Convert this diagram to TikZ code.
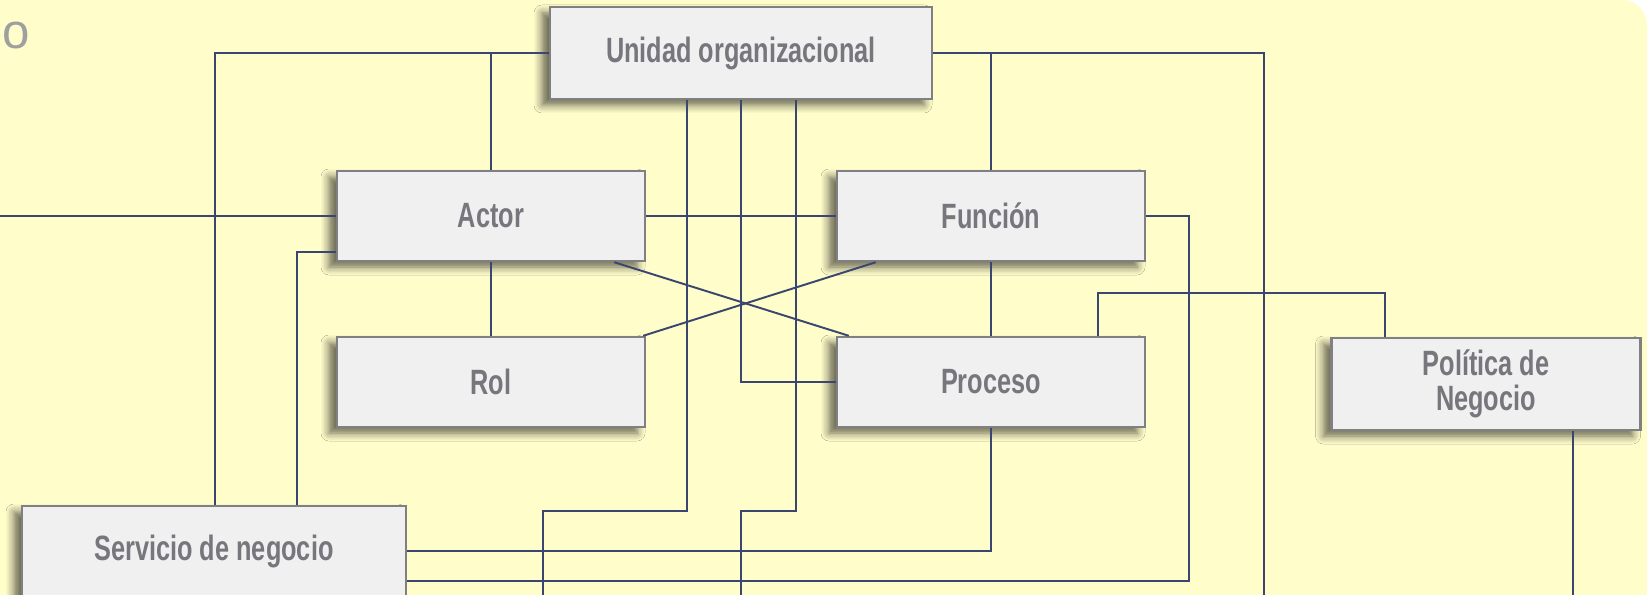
\documentclass[tikz,border=0pt]{standalone}
\usepackage{fontspec}
\newfontfamily\boxfont{Liberation Sans}[FakeStretch=0.72]
\newfontfamily\ttlfont{Liberation Sans}
\usetikzlibrary{calc,shadows.blur}
\definecolor{bgyellow}{RGB}{255,253,202}
\definecolor{boxfill}{RGB}{240,240,240}
\definecolor{boxline}{RGB}{128,128,130}
\definecolor{wirecol}{RGB}{58,70,112}
\definecolor{labelgray}{RGB}{118,118,124}
\tikzset{
    block/.style = {
        draw = boxline,
        line width = 1.4pt,
        fill = boxfill,
        minimum width = 6.16cm,
        minimum height = 1.8cm,
        text = labelgray,
        align = center,
        font = \boxfont\bfseries\fontsize{20}{20}\selectfont,
        blur shadow = {shadow xshift=-0.16cm, shadow yshift=-0.12cm, shadow blur steps=6, shadow opacity=60, shadow blur radius=0.16cm},
        },
    wire/.style = {
        draw = wirecol,
        line width = 1.1pt,
        },
}
\begin{document}
\begin{tikzpicture}
    \fill[bgyellow] (0,0) -- (32.44,0) arc[start angle=90, end angle=0, radius=0.5] -- (32.94,-11.9) -- (0,-11.9) -- cycle;
    \useasboundingbox (0,0) rectangle (32.94,-11.9);

    \node[text=gray!75, font=\ttlfont\fontsize{28}{28}\selectfont] (ttl) at (0.32,-0.72) {o};

    % boxes
    \node [block, minimum width=7.64cm, minimum height=1.84cm] (unidad) at (14.82,-1.06) {Unidad organizacional};
    \node [block] (actor) at (9.82,-4.32) {Actor};
    \node [block] (funcion) at (19.82,-4.32) {Función};
    \node [block] (rol) at (9.82,-7.64) {Rol};
    \node [block] (proceso) at (19.82,-7.64) {Proceso};
    \node [block, minimum width=6.18cm, minimum height=1.84cm] (politica) at (29.72,-7.68) {Política de\\Negocio};
    \node [block, minimum width=7.68cm] (servicio) at (4.28,-11.02) {Servicio de negocio};

    \coordinate (ul) at (4.30,-1.06);
    \coordinate (edgeL) at (0,-4.32);
    \coordinate (ur) at (25.28,-1.06);
    \coordinate (urb) at (25.28,-11.9);
    \coordinate (k1) at (10.86,-10.22);
    \coordinate (b1) at (10.86,-11.9);
    \coordinate (k2) at (14.82,-10.22);
    \coordinate (b2) at (14.82,-11.9);
    \coordinate (fs) at (23.78,-11.62);
    \coordinate (pp) at (21.96,-5.86);
    \coordinate (pb) at (31.46,-11.9);

    % left side
    \draw[wire] (unidad.west) -- (ul) -- (ul |- servicio.north);
    \draw[wire] (actor.north) -- (actor.north |- unidad.west);
    \draw[wire] (edgeL) -- (actor.west);
    \draw[wire] ([xshift=5.52cm] servicio.north west) |- ([yshift=-0.72cm] actor.west);

    % middle
    \draw[wire] (actor.east) -- (funcion.west);
    \draw[wire] (actor.south) -- (rol.north);
    \draw[wire] (funcion.south) -- (proceso.north);
    \draw[wire] ([xshift=-0.64cm] actor.south east) -- ([xshift=0.26cm] proceso.north west);
    \draw[wire] ([xshift=-0.06cm] rol.north east) -- ([xshift=0.8cm] funcion.south west);

    % from unidad downwards
    \draw[wire] ([xshift=-1.08cm] unidad.south) |- (k1) -- (b1);
    \draw[wire] ([xshift=1.1cm] unidad.south) |- (k2) -- (b2);
    \draw[wire] (unidad.south) |- (proceso.west);

    % right side
    \draw[wire] (unidad.east) -- (ur) -- (urb);
    \draw[wire] (funcion.north) -- (funcion.north |- unidad.east);
    \draw[wire] ([xshift=2.14cm] proceso.north) -- (pp) -| ([xshift=-2.02cm] politica.north);
    \draw[wire] ([xshift=1.74cm] politica.south) -- (pb);

    % servicio links
    \draw[wire] (servicio.east) -| (proceso.south);
    \draw[wire] ([yshift=-0.6cm] servicio.east) -- (fs) |- (funcion.east);
\end{tikzpicture}
\end{document}
